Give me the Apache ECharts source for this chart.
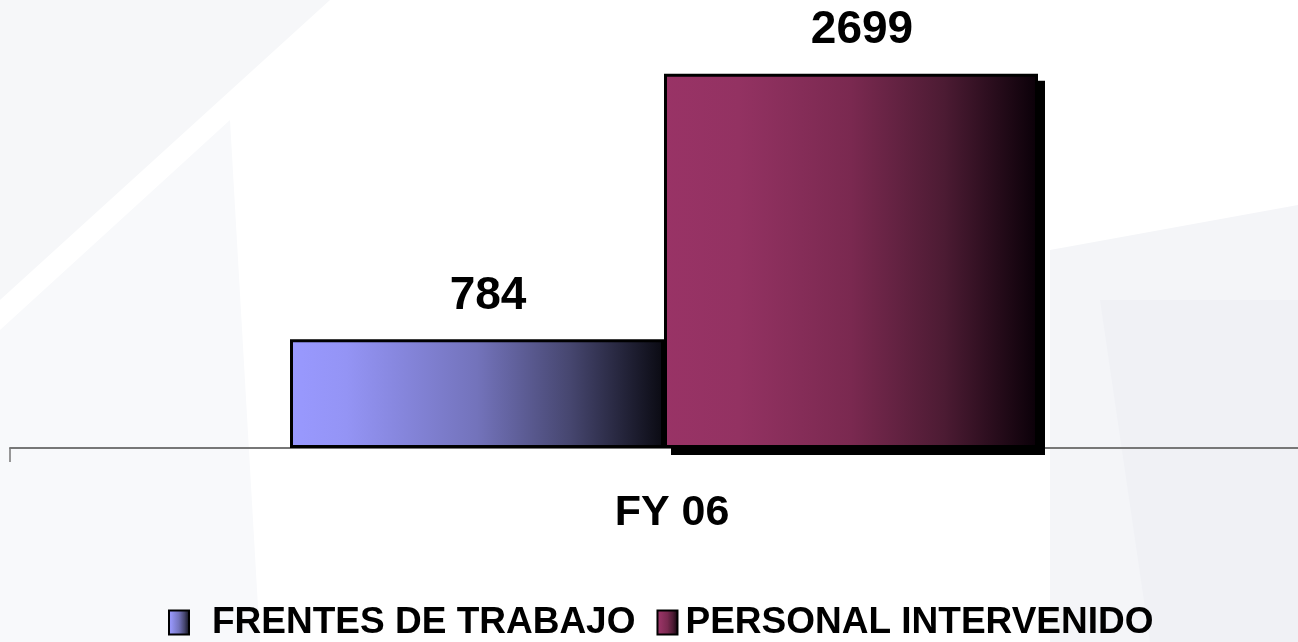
<!DOCTYPE html>
<html style="height:100%">
<head>
<meta charset="utf-8">
</head>
<body style="height:100%; margin: 0; background:#fff">
<div id="container" style="width:1298px; height:642px"></div>
<script src="https://cdn.jsdelivr.net/npm/echarts@6/dist/echarts.min.js"></script>
<script type="text/javascript">
var categories = ['FY 06'];
var seriesNames = ['FRENTES DE TRABAJO', 'PERSONAL INTERVENIDO'];
var frentes = [784];
var personal = [2699];

var font = '"Liberation Sans", Arial, sans-serif';
var BAR_W = 374;

function grad(stops) {
    return new echarts.graphic.LinearGradient(0, 0, 1, 0, stops);
}
var blueFill = grad([
    {offset: 0, color: '#9999ff'},
    {offset: 0.15, color: '#9494f5'},
    {offset: 0.5, color: '#7373bb'},
    {offset: 0.75, color: '#46466f'},
    {offset: 1, color: '#0a0a12'}
]);
var pinkFill = grad([
    {offset: 0, color: '#993366'},
    {offset: 0.2, color: '#933262'},
    {offset: 0.5, color: '#7a2950'},
    {offset: 0.75, color: '#4c1b33'},
    {offset: 1, color: '#0a0008'}
]);

var dom = document.getElementById('container');
var myChart = echarts.init(dom);

var labelStyle = {
    show: true,
    position: 'top',
    distance: 20,
    offset: [11, 0],
    fontSize: 46,
    fontWeight: 'bold',
    fontFamily: font,
    color: '#000'
};

// black drop shadow behind the second bar, placed with the axis scales
function shadowItem(params, api) {
    var top = api.coord([api.value(0), api.value(1)]);
    var base = api.coord([api.value(0), 0]);
    return {
        type: 'rect',
        shape: {x: top[0] + 7, y: top[1] + 7, width: BAR_W, height: base[1] - top[1]},
        style: {fill: '#000'}
    };
}

var option = {
    animation: false,
    backgroundColor: 'transparent',
    graphic: [
        {type: 'polygon', z: -10, shape: {points: [[0, 0], [330, 0], [0, 300]]}, style: {fill: '#f6f7f9'}},
        {type: 'polygon', z: -10, shape: {points: [[0, 330], [230, 120], [260, 642], [0, 642]]}, style: {fill: '#f8f9fb'}},
        {type: 'polygon', z: -10, shape: {points: [[1050, 250], [1298, 205], [1298, 642], [1050, 642]]}, style: {fill: '#f4f5f8'}},
        {type: 'polygon', z: -10, shape: {points: [[1100, 300], [1298, 300], [1298, 642], [1150, 642]]}, style: {fill: '#f0f1f5'}}
    ],
    grid: {left: 10, width: 1308, top: 32, bottom: 194, outerBoundsMode: 'none'},
    legend: {
        left: 163,
        top: 599,
        itemWidth: 20,
        itemHeight: 24,
        itemGap: 21,
        data: [
            {name: seriesNames[0], icon: 'rect', textStyle: {padding: [0, 0, 0, 18]}},
            {name: seriesNames[1], icon: 'rect', textStyle: {padding: [0, 0, 0, 3]}}
        ],
        textStyle: {
            fontSize: 37,
            fontWeight: 'bold',
            fontFamily: font,
            color: '#000'
        }
    },
    xAxis: {
        type: 'category',
        data: categories,
        axisLine: {lineStyle: {color: '#777', width: 2}},
        axisTick: {show: true, length: 14, lineStyle: {color: '#777', width: 1.5}},
        axisLabel: {
            margin: 44,
            fontSize: 43,
            fontWeight: 'bold',
            fontFamily: font,
            color: '#000',
            padding: [0, 0, 0, 16]
        }
    },
    yAxis: {
        type: 'value',
        min: 0,
        max: 3000,
        show: false,
        splitLine: {show: false}
    },
    series: [
        {
            name: seriesNames[0],
            type: 'bar',
            data: frentes,
            barWidth: BAR_W,
            barGap: '0%',
            z: 3,
            itemStyle: {color: blueFill, borderColor: '#000', borderWidth: 3},
            label: labelStyle
        },
        {
            name: seriesNames[1],
            type: 'bar',
            data: personal,
            barWidth: BAR_W,
            z: 3,
            itemStyle: {color: pinkFill, borderColor: '#000', borderWidth: 3},
            label: labelStyle
        },
        {
            name: 'shadow',
            type: 'custom',
            z: 1,
            silent: true,
            renderItem: shadowItem,
            data: personal.map(function (v, i) { return [i, v]; })
        }
    ]
};

myChart.setOption(option);
</script>
</body>
</html>
